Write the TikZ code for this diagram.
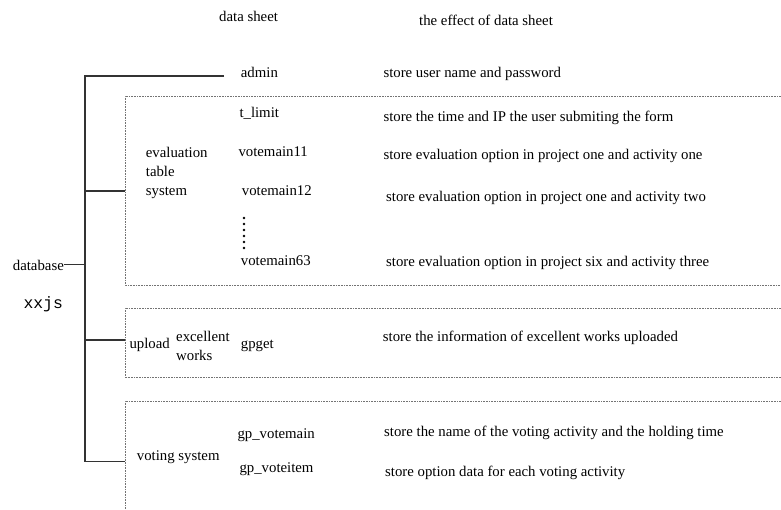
\documentclass[tikz,border=0pt]{standalone}
\usepackage{fontspec}
\setmainfont{Liberation Serif}
\setmonofont{Liberation Mono}
\begin{document}
\begin{tikzpicture}[x=1pt,y=-1pt,
  txt/.style={anchor=base west, inner sep=0pt, font=\fontsize{14.8}{17}\selectfont, text=black},
  conn/.style={draw=black!80, line width=1.1pt},
  dotbox/.style={draw=black!55, line width=0.7pt, dash pattern=on 0.8pt off 0.8pt},
]
\useasboundingbox (0,0) rectangle (781,509);

% headers
\node[txt] (h1) at (219,21.7) {data sheet};
\node[txt] (h2) at (419,25.5) {the effect of data sheet};

% root
\node[txt] (db) at (12.7,270) {database};
\node[txt, font=\ttfamily\fontsize{16.4}{18}\selectfont] (xx) at (23.3,308) {xxjs};

% trunk
\coordinate (tr0) at (85,76);
\coordinate (tr1) at (85,461.5);
\coordinate (aend) at (224,76);
\draw[conn] (aend) -- (tr0) -- (tr1);
\draw[conn] (db.east) -- (db.east -| tr0);

% boxes
\coordinate (ebox) at (125,191);
\coordinate (ubox) at (125,340);
\coordinate (vbox) at (125,461.5);
\draw[conn] (ebox) -- (ebox -| tr0);
\draw[conn] (ubox) -- (ubox -| tr0);
\draw[conn] (vbox) -- (vbox -| tr0);
\draw[dotbox] (781,96) -- (125,96) -- (125,285) -- (781,285);
\draw[dotbox] (781,308.3) -- (125,308.3) -- (125,377.7) -- (781,377.7);
\draw[dotbox] (781,401) -- (125,401) -- (125,509);

% admin
\node[txt] (admin) at (240.7,77) {admin};
\node[txt] (adminS) at (383.3,77) {store user name and password};

% evaluation table system
\node[txt] (evA) at (145.7,157.3) {evaluation};
\node[txt] (evB) at (145.7,176.7) {table};
\node[txt] (evC) at (145.7,195) {system};
\node[txt] (tl) at (239.3,117) {t\_limit};
\node[txt] (tlS) at (383.3,121.7) {store the time and IP the user submiting the form};
\node[txt] (v11) at (238.3,156) {votemain11};
\node[txt] (v11S) at (383.3,159.3) {store evaluation option in project one and activity one};
\node[txt] (v12) at (241.7,195) {votemain12};
\node[txt] (v12S) at (386,201.7) {store evaluation option in project one and activity two};
\foreach \y in {218,224,230,236,242,248} \fill[black] (244,\y) circle (1.3);
\node[txt] (v63) at (240.7,265) {votemain63};
\node[txt] (v63S) at (386,266.7) {store evaluation option in project six and activity three};

% upload
\node[txt] (up) at (129.3,348.3) {upload};
\node[txt] (exA) at (176,341) {excellent};
\node[txt] (exB) at (176,360) {works};
\node[txt] (gp) at (240.7,348.3) {gpget};
\node[txt] (gpS) at (382.7,341) {store the information of excellent works uploaded};

% voting
\node[txt] (vs) at (136.7,460) {voting system};
\node[txt] (gvm) at (237.3,438.3) {gp\_votemain};
\node[txt] (gvmS) at (384,436.7) {store the name of the voting activity and the holding time};
\node[txt] (gvi) at (239.3,472.7) {gp\_voteitem};
\node[txt] (gviS) at (385,476) {store option data for each voting activity};
\end{tikzpicture}
\end{document}
